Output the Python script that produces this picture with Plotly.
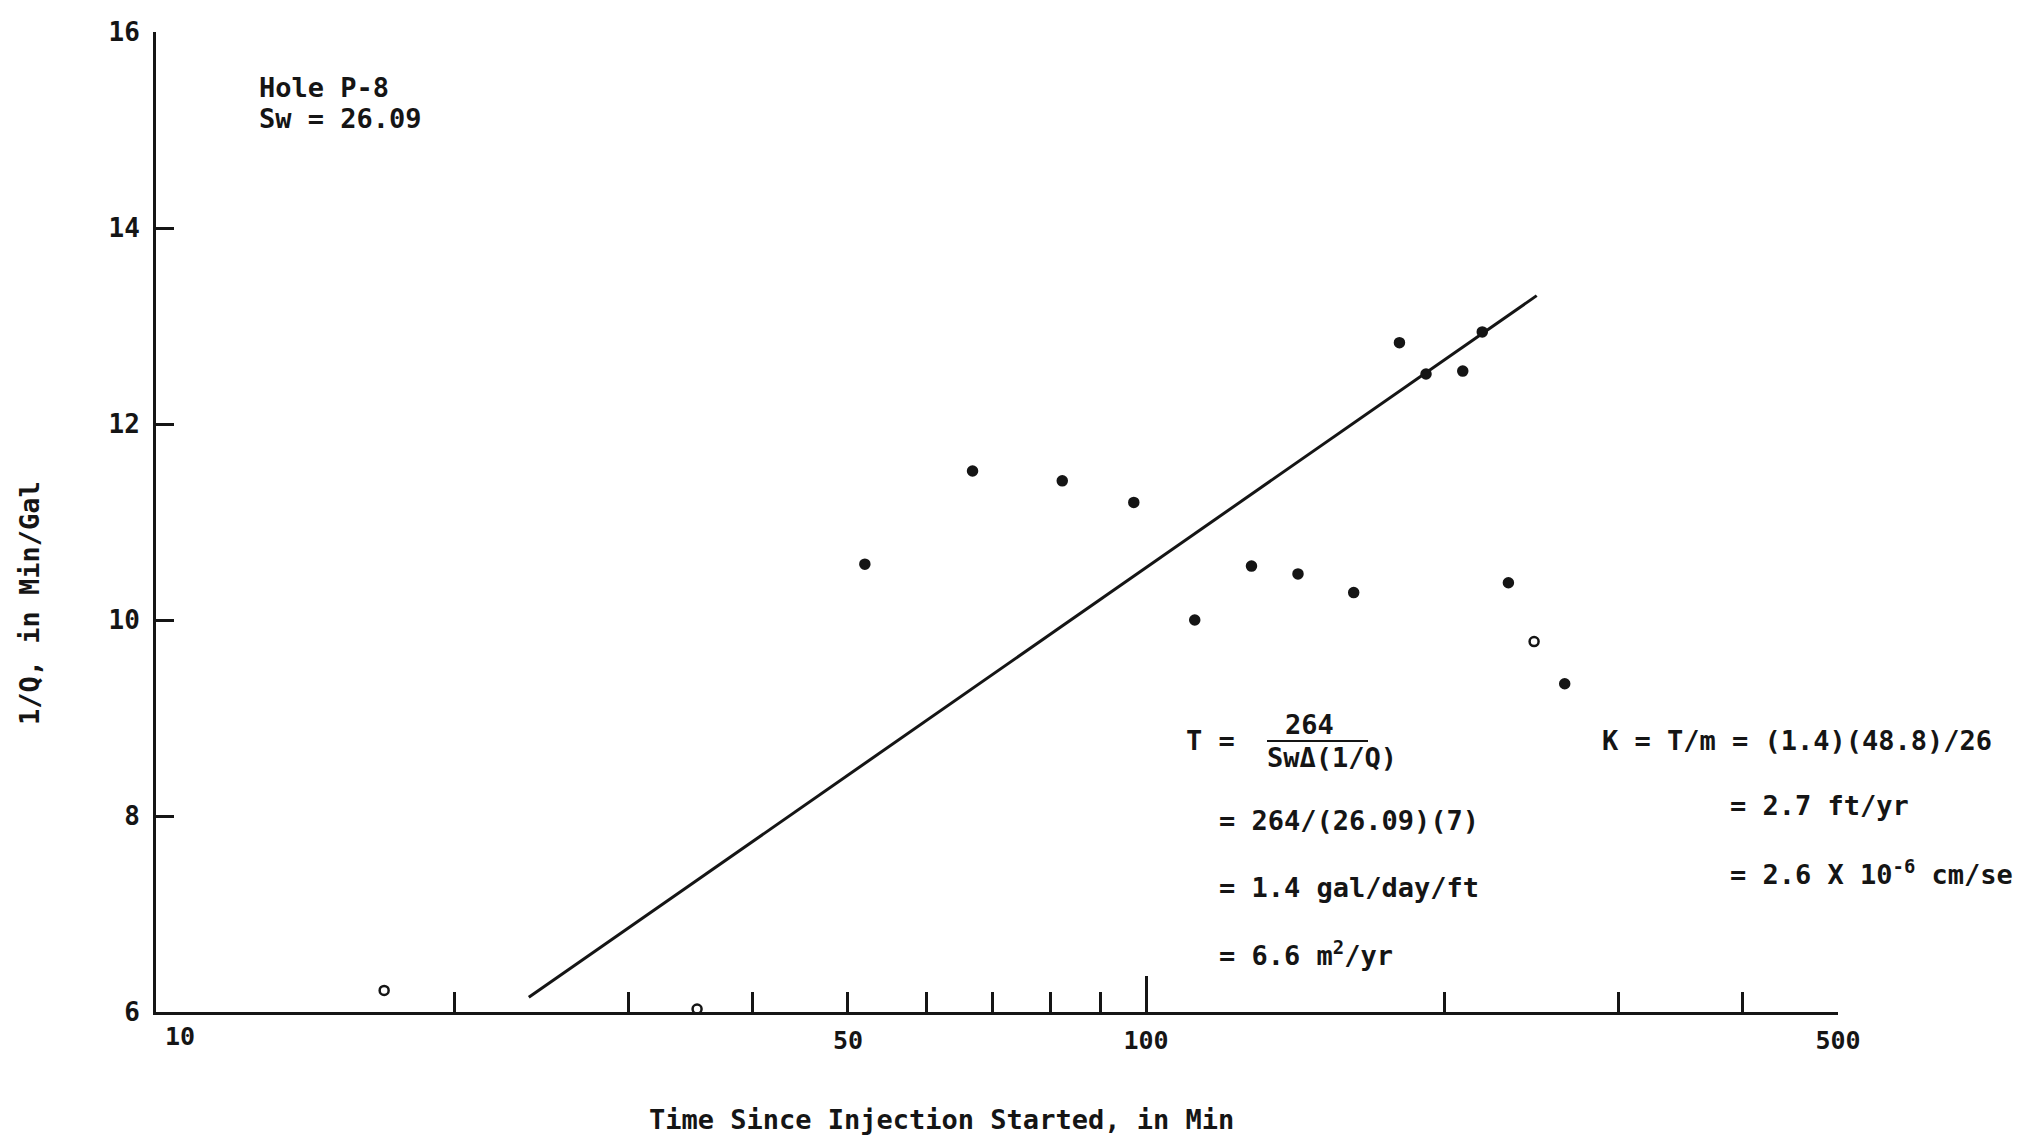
import plotly.graph_objects as go

# ---- data ----
time_min = [17.0, 35.2, 52.0, 66.8, 82.3, 97.2, 112.0, 127.8, 142.4, 162.1,
            180.3, 191.8, 208.9, 218.6, 232.3, 246.6, 264.8]
inv_q = [6.22, 6.03, 10.57, 11.52, 11.42, 11.20, 10.00, 10.55, 10.47, 10.28,
         12.83, 12.51, 12.54, 12.94, 10.38, 9.78, 9.35]
hollow = [True, True, False, False, False, False, False, False, False, False,
          False, False, False, False, False, True, False]

fit_time = [23.8, 248.1]
fit_inv_q = [6.15, 13.31]

x_label_ticks = [50, 100, 500]
x_minor_ticks = [20, 30, 40, 60, 70, 80, 90, 200, 300, 400]
x_long_ticks = [100, 500]
y_tickvals = [6, 8, 10, 12, 14, 16]

# ---- layout geometry (pixels) ----
W, H = 2021, 1140
L, R, T, B = 156, 183, 32, 128
PW, PH = W - L - R, H - T - B
INK = "#151515"
FONT = "DejaVu Sans Mono"


def px(x):
    return (x - L) / PW


def py(y):
    return (H - B - y) / PH


fig = go.Figure()

fig.add_trace(go.Scatter(
    x=fit_time, y=fit_inv_q, mode="lines",
    line=dict(color=INK, width=3), showlegend=False, hoverinfo="skip"))

fig.add_trace(go.Scatter(
    x=time_min, y=inv_q, mode="markers",
    marker=dict(
        symbol=["circle-open" if h else "circle" for h in hollow],
        size=9, color=INK, line=dict(color=INK, width=2.5)),
    cliponaxis=False, showlegend=False))

# overlay axis for the longer tick marks at 100 and 500
fig.add_trace(go.Scatter(x=[], y=[], xaxis="x2", showlegend=False))

fig.update_layout(
    width=W, height=H,
    margin=dict(l=L, r=R, t=T, b=B, autoexpand=False),
    paper_bgcolor="white", plot_bgcolor="white",
    font=dict(family=FONT, color=INK, size=25, weight="bold"),
    xaxis=dict(
        type="log", range=[1, 2.69897], automargin=False,
        showgrid=False, zeroline=False,
        showline=True, linecolor=INK, linewidth=3,
        ticks="inside", ticklen=20, tickwidth=3, tickcolor=INK,
        tickvals=x_label_ticks, ticktext=[str(v) for v in x_label_ticks],
        tickfont=dict(family=FONT, size=25, weight="bold"),
        ticklabelstandoff=4,
        minor=dict(tickvals=x_minor_ticks, ticks="inside", ticklen=20,
                   tickwidth=3, tickcolor=INK, showgrid=False),
    ),
    xaxis2=dict(
        type="log", range=[1, 2.69897], overlaying="x", side="bottom",
        automargin=False,
        showgrid=False, zeroline=False, showline=False,
        ticks="inside", ticklen=36, tickwidth=3, tickcolor=INK,
        tickvals=x_long_ticks, showticklabels=False,
    ),
    yaxis=dict(
        range=[6, 16], automargin=False,
        showgrid=False, zeroline=False,
        showline=True, linecolor=INK, linewidth=3,
        ticks="inside", ticklen=18, tickwidth=3, tickcolor=INK,
        tickvals=y_tickvals,
        tickfont=dict(family=FONT, size=26, weight="bold"),
        ticklabelstandoff=8,
    ),
)


def note(text, x, y, anchor="left", size=27):
    fig.add_annotation(
        text=text, xref="paper", yref="paper", x=px(x), y=py(y),
        xanchor=anchor, yanchor="middle", showarrow=False,
        font=dict(family=FONT, size=size, color=INK, weight="bold"))


# "10" label at the axis origin (shifted right of the y axis as in the reference)
note("10", 180, 1036, anchor="center", size=25)

# titles
note("Time Since Injection Started, in Min", 941, 1119, anchor="center")
fig.add_annotation(
    text="1/Q, in Min/Gal", xref="paper", yref="paper", x=px(29), y=py(603),
    xanchor="center", yanchor="middle", textangle=-90, showarrow=False,
    font=dict(family=FONT, size=27, color=INK, weight="bold"))

# hole label
note("Hole P-8", 257, 87)
note("Sw = 26.09", 257, 118)

# transmissivity formula
note("T =", 1184, 740)
note("264", 1309, 724, anchor="center")
note("SwΔ(1/Q)", 1332, 757, anchor="center")
fig.add_shape(type="line", xref="paper", yref="paper",
              x0=px(1267), x1=px(1368), y0=py(741), y1=py(741),
              line=dict(color=INK, width=2))
note("= 264/(26.09)(7)", 1217, 820)
note("= 1.4 gal/day/ft", 1217, 887)
note("= 6.6 m<sup>2</sup>/yr", 1217, 953)

# hydraulic conductivity
note("K = T/m = (1.4)(48.8)/26", 1600, 740)
note("= 2.7 ft/yr", 1728, 805)
note("= 2.6 X 10<sup>-6</sup> cm/se", 1728, 872)

fig.write_html(
    "out.html",
    config={"displayModeBar": False},
    post_script="document.body.style.margin='0';document.body.style.overflow='hidden';",
)
